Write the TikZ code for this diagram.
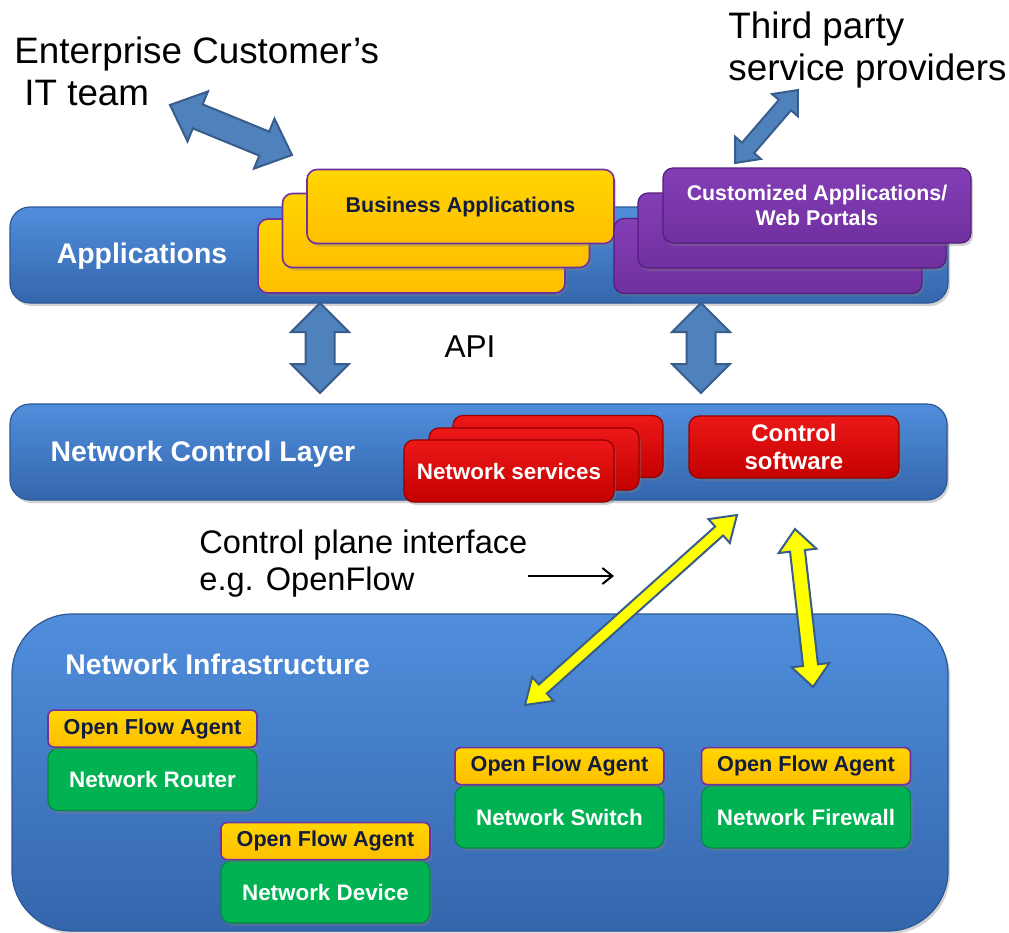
\documentclass[tikz,border=0pt]{standalone}
\usepackage{fontspec}
\setmainfont{Liberation Sans}
\usetikzlibrary{calc,positioning,shadows,arrows.meta}
\definecolor{layerT}{RGB}{80,142,220}
\definecolor{layerB}{RGB}{52,102,172}
\definecolor{layerD}{RGB}{44,88,150}
\definecolor{yelT}{RGB}{255,214,0}
\definecolor{yelB}{RGB}{255,190,0}
\definecolor{purp}{RGB}{112,48,160}
\definecolor{purpT}{RGB}{132,62,182}
\definecolor{purpD}{RGB}{84,30,124}
\definecolor{redT}{RGB}{236,24,24}
\definecolor{redB}{RGB}{196,0,0}
\definecolor{redD}{RGB}{150,0,0}
\definecolor{grn}{RGB}{0,178,82}
\definecolor{grnD}{RGB}{0,140,64}
\definecolor{navy}{RGB}{18,28,62}
\definecolor{arrF}{RGB}{79,129,189}
\definecolor{arrD}{RGB}{56,93,138}
\definecolor{yarr}{RGB}{255,255,0}
\begin{document}
\begin{tikzpicture}[x=0.5pt,y=-0.5pt,
  shad/.style={drop shadow={shadow xshift=1pt,shadow yshift=-1.5pt,opacity=0.35}},
  layer/.style={shad,draw=layerD,line width=0.6pt,top color=layerT,bottom color=layerB,rounded corners=10pt,inner sep=0pt},
  layerlabel/.style={text=white,font=\bfseries\fontsize{14.2}{17}\selectfont,inner sep=0pt},
  biz/.style={shad,draw=purp,line width=0.8pt,top color=yelT,bottom color=yelB,rounded corners=5pt,
    minimum width=153.5pt,minimum height=37pt,inner sep=0pt,text=navy,font=\bfseries\fontsize{10.7}{12.5}\selectfont},
  cust/.style={shad,draw=purpD,line width=0.6pt,top color=purpT,bottom color=purp,rounded corners=5pt,
    minimum width=154pt,minimum height=37.5pt,inner sep=0pt,text=white,font=\bfseries\fontsize{10.65}{12.5}\selectfont},
  redbox/.style={shad,draw=redD,line width=0.6pt,top color=redT,bottom color=redB,rounded corners=5pt,
    minimum width=105pt,minimum height=31pt,inner sep=0pt,text=white},
  ofa/.style={shad,draw=purp,line width=0.8pt,top color=yelT,bottom color=yelB,rounded corners=3pt,
    minimum width=104.5pt,minimum height=18.5pt,inner sep=0pt,text=navy,font=\bfseries\fontsize{10.8}{12}\selectfont},
  dev/.style={shad,draw=grnD,line width=0.6pt,fill=grn,rounded corners=5pt,
    minimum width=104.5pt,minimum height=31pt,inner sep=0pt,text=white,font=\bfseries\fontsize{11.2}{13}\selectfont},
  plain/.style={inner sep=0pt,text=black},
  fat/.style n args={3}{to path={
    -- ($(\tikztostart)!#3!(\tikztotarget)!#2!90:(\tikztotarget)$)
    -- ($(\tikztostart)!#3!(\tikztotarget)!#1!90:(\tikztotarget)$)
    -- ($(\tikztotarget)!#3!(\tikztostart)!#1!-90:(\tikztostart)$)
    -- ($(\tikztotarget)!#3!(\tikztostart)!#2!-90:(\tikztostart)$)
    -- (\tikztotarget)
    -- ($(\tikztotarget)!#3!(\tikztostart)!#2!90:(\tikztostart)$)
    -- ($(\tikztotarget)!#3!(\tikztostart)!#1!90:(\tikztostart)$)
    -- ($(\tikztostart)!#3!(\tikztotarget)!#1!-90:(\tikztotarget)$)
    -- ($(\tikztostart)!#3!(\tikztotarget)!#2!-90:(\tikztotarget)$)
    -- cycle}},
  bluearr/.style={fill=arrF,draw=arrD,line width=1pt},
  yelarr/.style={fill=yarr,draw=arrD,line width=1pt}
]
\useasboundingbox (0,0) rectangle (1009,933);

% top texts
\node[plain,anchor=north west,align=left,font=\fontsize{18.4}{21}\selectfont] (ent) at (14,36)
  {Enterprise Customer’s\\\hspace{5pt}IT team};
\node[plain,anchor=north west,align=left,font=\fontsize{18.4}{21}\selectfont] (third) at (728,11)
  {Third party\\service providers};

% Applications layer
\node[layer,minimum width=469pt,minimum height=48pt] (apps) at (479,255) {};
\node[layerlabel] (appslbl) at (142,256) {Applications};
\node[biz] (ba3) at (411.5,256) {};
\node[biz] (ba2) at (436,230.5) {};
\node[biz] (ba1) at (460.5,206.5) {Business Applications};
\node[cust] (ca3) at (768,256) {};
\node[cust] (ca2) at (792,230.5) {};
\node[cust,align=center] (ca1) at (817,205.5) {Customized Applications/\\Web Portals};

% blue arrows top
\coordinate (ent1) at (170,105);
\coordinate (ent2) at (292,155);
\draw[bluearr,fat={6.5pt}{13.5pt}{15pt}] (ent1) to (ent2);
\coordinate (tp1) at (798,90);
\coordinate (tp2) at (735,163);
\draw[bluearr,fat={4pt}{8.5pt}{10pt}] (tp1) to (tp2);

% API
\coordinate (apiL1) at (320,303);
\coordinate (apiL2) at (320,393);
\coordinate (apiR1) at (701,303);
\coordinate (apiR2) at (701,393);
\draw[bluearr,fat={7.25pt}{14.5pt}{14.5pt}] (apiL1) to (apiL2);
\draw[bluearr,fat={7.25pt}{14.5pt}{14.5pt}] (apiR1) to (apiR2);
\node[plain,font=\fontsize{15.8}{18}\selectfont] (api) at (470,347) {API};

% Network control layer
\node[layer,minimum width=468.5pt,minimum height=48pt] (ncl) at (478.5,452) {};
\node[layerlabel] (ncllbl) at (203,454) {Network Control Layer};
\node[redbox] (ns3) at (558,446.5) {};
\node[redbox] (ns2) at (534,459) {};
\node[redbox,font=\bfseries\fontsize{11.2}{13}\selectfont] (ns1) at (509,471) {Network services};
\node[redbox,align=center,font=\bfseries\fontsize{12}{14}\selectfont] (ctrl) at (794,447) {Control\\software};

% control plane text
\node[plain,anchor=north west,align=left,font=\fontsize{16.3}{18.5}\selectfont] (cpi) at (199,529)
  {Control plane interface\\e.g. OpenFlow};
\coordinate (cpa1) at (528,576);
\coordinate (cpa2) at (614,576);
\draw[line width=1pt,-{Straight Barb[length=5pt,width=8pt]}] (cpa1) -- (cpa2);

% Network infrastructure
\node[layer,rounded corners=30pt,minimum width=468pt,minimum height=158.5pt] (infra) at (480,772.5) {};
\node[layerlabel,anchor=west] (infralbl) at (65,664) {Network Infrastructure};

\node[dev] (router) at (152.5,779.5) {Network Router};
\node[ofa,above=0pt of router] (ofa1) {Open Flow Agent};
\node[dev] (device) at (325.5,892) {Network Device};
\node[ofa,above=0pt of device] (ofa2) {Open Flow Agent};
\node[dev] (switch) at (559.5,817) {Network Switch};
\node[ofa,above=0pt of switch] (ofa3) {Open Flow Agent};
\node[dev] (firewall) at (806,817) {Network Firewall};
\node[ofa,above=0pt of firewall] (ofa4) {Open Flow Agent};

% yellow arrows
\coordinate (cs1) at (737,515);
\coordinate (cs2) at (525,705);
\draw[yelarr,fat={3pt}{8pt}{12pt}] (cs1) to (cs2);
\coordinate (cf1) at (795,529);
\coordinate (cf2) at (813,687);
\draw[yelarr,fat={3.75pt}{9.5pt}{11pt}] (cf1) to (cf2);
\end{tikzpicture}
\end{document}
